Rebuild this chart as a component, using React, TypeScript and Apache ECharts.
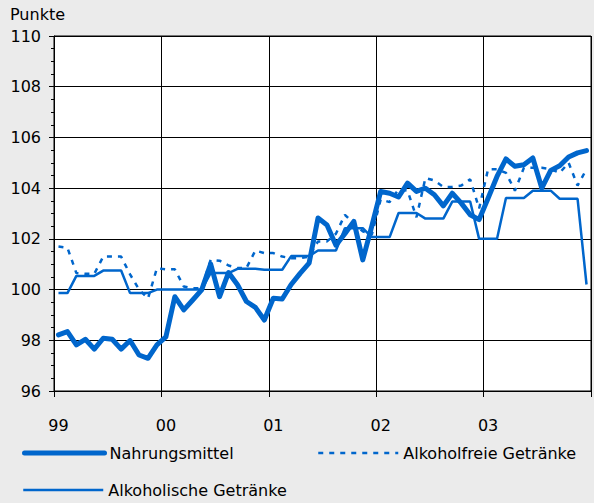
import { useEffect, useRef } from 'react';
import * as echarts from 'echarts';

const yearLabels = ['99', '00', '01', '02', '03'];
const seriesNames = ['Nahrungsmittel', 'Alkoholfreie Getränke', 'Alkoholische Getränke'];

const nahrungsmittel = [
  98.21, 98.34, 97.82, 98.04, 97.65, 98.08, 98.04, 97.65, 97.99, 97.42, 97.29, 97.82,
  98.13, 99.72, 99.2, 99.59, 99.99, 101.01, 99.72, 100.67, 100.19, 99.53, 99.3, 98.8,
  99.66, 99.63, 100.2, 100.64, 101.04, 102.82, 102.55, 101.75, 102.2, 102.69, 101.17, 102.49,
  103.87, 103.8, 103.65, 104.2, 103.87, 104.0, 103.74, 103.3, 103.8, 103.41, 102.95, 102.76,
  103.6, 104.46, 105.15, 104.86, 104.92, 105.19, 104.0, 104.7, 104.88, 105.23, 105.39, 105.48,
];

const alkoholfreie = [
  101.7, 101.65, 100.65, 100.62, 100.62, 101.3, 101.3, 101.3, 100.6, 100.0, 99.65, 100.84,
  100.8, 100.8, 100.12, 100.05, 100.05, 101.17, 101.14, 100.95, 100.85, 100.85, 101.54, 101.44,
  101.44, 101.3, 101.24, 101.24, 101.3, 101.9, 101.9, 102.2, 102.95, 102.6, 102.3, 102.15,
  103.55, 103.45, 103.95, 103.9, 102.85, 104.4, 104.3, 104.05, 104.05, 104.1, 104.35, 103.2,
  104.75, 104.75, 104.6, 103.9, 104.8, 104.8, 104.8, 104.75, 104.6, 105.0, 104.1, 104.75,
];

const alkoholische = [
  99.86, 99.86, 100.54, 100.54, 100.54, 100.75, 100.75, 100.75, 99.86, 99.86, 99.86, 100.0,
  100.0, 100.0, 100.0, 100.0, 100.0, 100.65, 100.65, 100.65, 100.82, 100.82, 100.82, 100.78,
  100.78, 100.78, 101.32, 101.32, 101.32, 101.54, 101.54, 101.54, 102.42, 102.42, 102.42, 102.07,
  102.07, 102.07, 103.02, 103.02, 103.02, 102.8, 102.8, 102.8, 103.47, 103.47, 103.47, 102.0,
  102.0, 102.0, 103.61, 103.61, 103.61, 103.9, 103.9, 103.9, 103.58, 103.58, 103.58, 100.2,
];

const FONT = 'DejaVu Sans';
const BLUE = '#0066cc';

export default function App() {
  const ref = useRef<HTMLDivElement>(null);
  useEffect(() => {
    const chart = echarts.init(ref.current!, null, { renderer: 'svg' });
    const toPoints = (arr: number[]) => arr.map((v, i) => [i + 0.5, v]);
    const legendText = { fontSize: 16, fontFamily: FONT, color: '#000' };
    const legendBase = {
      itemWidth: 80, itemHeight: 16, padding: 0, selectedMode: false,
      textStyle: legendText, lineStyle: { width: 'inherit' }, itemStyle: { opacity: 0 },
    };
    chart.setOption({
      animation: false,
      backgroundColor: '#ebebeb',
      textStyle: { fontFamily: FONT },
      grid: {
        left: 54, top: 36, right: -3, bottom: 112,
        show: true, backgroundColor: '#ffffff', borderColor: '#000', borderWidth: 1,
      },
      xAxis: {
        type: 'value', min: 0, max: 60, interval: 12,
        axisLine: { show: true, lineStyle: { color: '#000', width: 1 } },
        axisTick: { show: true, length: 6, lineStyle: { color: '#000' } },
        splitLine: { show: true, lineStyle: { color: '#000', width: 1 } },
        axisLabel: {
          formatter: (v: number) => yearLabels[Math.round(v / 12)] ?? '',
          color: '#000', fontSize: 16, fontFamily: FONT, margin: 26, padding: [0, 0, 0, 9],
        },
      },
      yAxis: {
        type: 'value', min: 96, max: 110, interval: 2,
        axisLine: { show: true, lineStyle: { color: '#000', width: 1 } },
        axisTick: { show: true, length: 5, lineStyle: { color: '#000' } },
        minorTick: { show: true, splitNumber: 4, length: 3, lineStyle: { color: '#000' } },
        splitLine: { show: true, lineStyle: { color: '#000', width: 1 } },
        axisLabel: { color: '#000', fontSize: 16, fontFamily: FONT, margin: 13 },
      },
      legend: [
        { ...legendBase, data: [seriesNames[0]], left: 22, top: 445 },
        { ...legendBase, data: [seriesNames[1]], left: 317, top: 445 },
        { ...legendBase, data: [seriesNames[2]], left: 22, top: 482 },
      ],
      graphic: [
        {
          type: 'text', left: 10, top: 6,
          style: { text: 'Punkte', fontSize: 16, fontFamily: FONT, fill: '#000' },
        },
      ],
      series: [
        {
          name: seriesNames[0], type: 'line', symbol: 'none', data: toPoints(nahrungsmittel),
          lineStyle: { color: BLUE, width: 5, join: 'round', cap: 'round' }, itemStyle: { color: BLUE },
        },
        {
          name: seriesNames[1], type: 'line', symbol: 'none', data: toPoints(alkoholfreie),
          lineStyle: { color: BLUE, width: 2.5, type: [5, 6] }, itemStyle: { color: BLUE },
        },
        {
          name: seriesNames[2], type: 'line', symbol: 'none', data: toPoints(alkoholische),
          lineStyle: { color: BLUE, width: 2.5 }, itemStyle: { color: BLUE },
        },
      ],
    });
    return () => chart.dispose();
  }, []);
  return <div ref={ref} style={{ position: 'fixed', left: 0, top: 0, width: 594, height: 503 }} />;
}
